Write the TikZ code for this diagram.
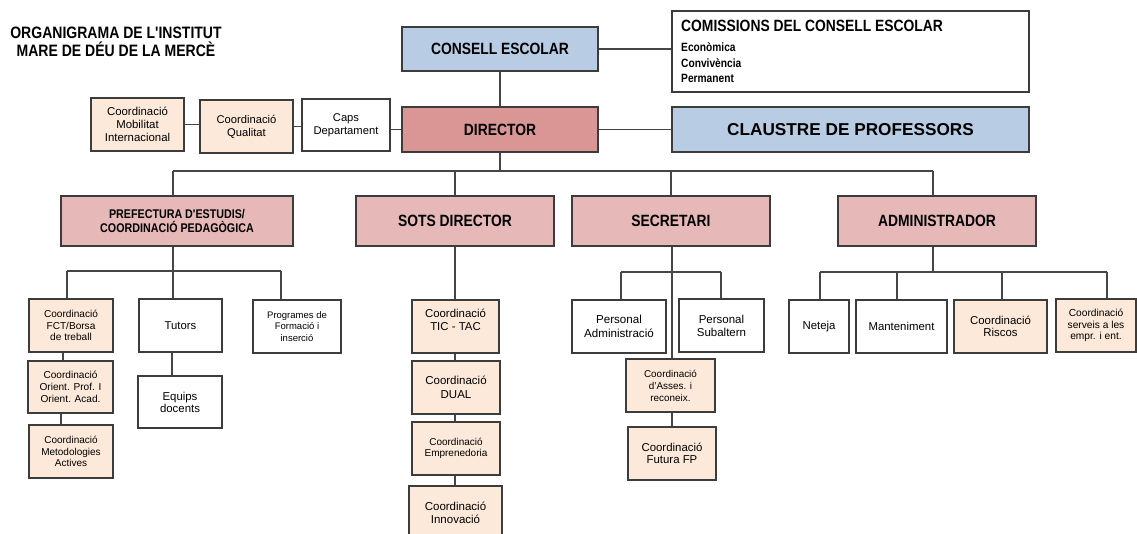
\documentclass[tikz,border=0pt]{standalone}
\usepackage{fontspec}
\setmainfont{Liberation Sans}
\newfontfamily\hdn[FakeStretch=0.85]{Liberation Sans}
\newfontfamily\wdf{Liberation Sans}
\definecolor{bluebox}{RGB}{184,204,228}
\definecolor{dirbox}{RGB}{218,150,148}
\definecolor{pinkbox}{RGB}{230,184,183}
\definecolor{peachbox}{RGB}{253,233,217}
\definecolor{bordc}{RGB}{60,60,60}
\definecolor{linec}{RGB}{70,70,70}
\newcommand{\fs}[2]{\fontsize{#1}{#2}\selectfont}
\begin{document}
\begin{tikzpicture}[x=1pt,y=-1pt,
  box/.style={draw=bordc, line width=1.2pt, inner sep=1pt, align=center, anchor=center, fill=white},
  peach/.style={box, fill=peachbox},
  head/.style={box, fill=pinkbox, minimum width=198pt, minimum height=50pt, font=\hdn\bfseries\fs{16.3}{18}},
  conn/.style={draw=linec, line width=1.1pt},
  txtA/.style={font=\fs{11.4}{12.7}},
  txtB/.style={font=\fs{10.1}{11.5}}]
\useasboundingbox (0,0) rectangle (1137,534);

% title
\node[align=center, inner sep=0, font=\hdn\bfseries\fs{16.5}{18}] (title) at (116,42) {ORGANIGRAMA DE L'INSTITUT\\MARE DE DÉU DE LA MERCÈ};

% top level
\node[box, fill=bluebox, minimum width=196pt, minimum height=44pt, font=\hdn\bfseries\fs{16.3}{18}] (consell) at (500,49) {CONSELL ESCOLAR};
\node[box, minimum width=357pt, minimum height=81pt] (comis) at (850.5,51.5) {};
\node[anchor=base west, inner sep=0, font=\hdn\bfseries\fs{16.3}{18}] (comisA) at (681,32) {COMISSIONS DEL CONSELL ESCOLAR};
\node[anchor=base west, inner sep=0, font=\hdn\bfseries\fs{12}{14}] (comisB) at (681,52) {Econòmica};
\node[anchor=base west, inner sep=0, font=\hdn\bfseries\fs{12}{14}] (comisC) at (681,67.5) {Convivència};
\node[anchor=base west, inner sep=0, font=\hdn\bfseries\fs{12}{14}] (comisD) at (681,83) {Permanent};

\node[box, fill=dirbox, minimum width=196pt, minimum height=45pt, font=\hdn\bfseries\fs{16.3}{18}] (director) at (500,129.5) {DIRECTOR};
\node[box, fill=bluebox, minimum width=357pt, minimum height=45pt, font=\wdf\bfseries\fs{17.2}{19}] (claustre) at (850.5,129.5) {CLAUSTRE DE PROFESSORS};

\node[peach, minimum width=93pt, minimum height=53pt, font=\fs{11.4}{12.7}] (mobil) at (137.5,124.5) {Coordinació\\Mobilitat\\Internacional};
\node[peach, minimum width=93pt, minimum height=53pt, font=\fs{11.2}{13}] (qualitat) at (246.5,126.5) {Coordinació\\Qualitat};
\node[box, minimum width=88pt, minimum height=52pt, font=\fs{11.2}{13}] (caps) at (346,125) {Caps\\Departament};

% second level
\node[head, minimum width=232pt, font=\hdn\bfseries\fs{12.6}{13.3}] (pref) at (177,221) {PREFECTURA D'ESTUDIS/\\COORDINACIÓ PEDAGÒGICA};
\node[head] (sots) at (455,221) {SOTS DIRECTOR};
\node[head] (secr) at (671,221) {SECRETARI};
\node[head] (admin) at (937,221) {ADMINISTRADOR};

% prefectura children
\node[peach, minimum width=84pt, minimum height=53pt, font=\fs{10.1}{11.2}] (fct) at (71,325.5) {Coordinació\\FCT/Borsa\\de treball};
\node[peach, minimum width=85pt, minimum height=52pt, font=\fs{10.1}{12}] (orient) at (70.5,387) {Coordinació\\Orient. Prof. I\\Orient. Acad.};
\node[peach, minimum width=84pt, minimum height=53pt, font=\fs{10}{11.3}] (metod) at (71,451.5) {Coordinació\\Metodologies\\Actives};
\node[box, minimum width=83pt, minimum height=53pt, font=\fs{11.3}{12.7}] (tutors) at (180.5,325.5) {Tutors};
\node[box, minimum width=84pt, minimum height=52pt, font=\fs{11.4}{12}] (equips) at (180,402) {Equips\\docents};
\node[box, minimum width=88pt, minimum height=53pt, font=\fs{9.5}{11.3}] (progr) at (297,326.5) {Programes de\\Formació i\\inserció};

% sots director children
\node[peach, minimum width=87pt, minimum height=53pt, font=\fs{11.4}{12.7}] (tic) at (455.5,326.5) {Coordinació\\TIC - TAC\\~};
\node[peach, minimum width=88pt, minimum height=53pt, font=\fs{11.5}{13.5}] (dual) at (456,387.5) {Coordinació\\DUAL};
\node[peach, minimum width=88pt, minimum height=53pt, font=\fs{10}{11.7}] (empr) at (456,448.5) {Coordinació\\Emprenedoria};
\node[peach, minimum width=93pt, minimum height=53pt, font=\fs{11.5}{12.7}] (innov) at (455.5,512.5) {Coordinació\\Innovació};

% secretari children
\node[box, minimum width=94pt, minimum height=53pt, font=\fs{11.6}{13.3}] (padm) at (619,326.5) {Personal\\Administració};
\node[box, minimum width=85pt, minimum height=53pt, font=\fs{11.5}{13}] (psub) at (721.5,325.5) {Personal\\Subaltern};
\node[peach, minimum width=89pt, minimum height=53pt, font=\fs{9.9}{12}] (asses) at (670.5,385.5) {Coordinació\\d'Asses. i\\reconeix.};
\node[peach, minimum width=88pt, minimum height=53pt, font=\fs{11.4}{12.7}] (futura) at (672,453.5) {Coordinació\\Futura FP};

% administrador children
\node[box, minimum width=60pt, minimum height=53pt, font=\fs{11.4}{12.7}] (neteja) at (819,326.5) {Neteja};
\node[box, minimum width=91pt, minimum height=53pt, font=\fs{11.4}{12.7}] (mant) at (901.5,326.5) {Manteniment};
\node[peach, minimum width=93pt, minimum height=53pt, font=\fs{11.4}{12.7}] (riscos) at (1000.5,326.5) {Coordinació\\Riscos};
\node[peach, minimum width=80pt, minimum height=53pt, font=\fs{10.2}{11.5}] (serveis) at (1096,325.5) {Coordinació\\serveis a les\\empr. i ent.};

% bus coordinates
\coordinate (busL) at (173,171);
\coordinate (busR) at (933,171);
\coordinate (pbL) at (67,271);
\coordinate (pbR) at (281,271);
\coordinate (sbL) at (621,272);
\coordinate (sbR) at (721,272);
\coordinate (abL) at (820,272);
\coordinate (abM1) at (897,272);
\coordinate (abM2) at (1002,272);
\coordinate (abR) at (1107,272);

% connectors top
\draw[conn] (consell.south) -- (director.north);
\draw[conn] (consell.east) -- (consell.east -| comis.west);
\draw[conn] (director.east) -- (claustre.west);
\draw[conn] (caps.east |- director.west) -- (director.west);
\draw[conn] (qualitat.east) -- (qualitat.east -| caps.west);
\draw[conn] (mobil.east) -- (mobil.east -| qualitat.west);

% main bus
\draw[conn] (director.south) -- (director.south |- busL);
\draw[conn] (busL) -- (busR);
\draw[conn] (busL) -- (busL |- pref.north);
\draw[conn] (sots.north |- busL) -- (sots.north);
\draw[conn] (secr.north |- busL) -- (secr.north);
\draw[conn] (busR) -- (busR |- admin.north);

% prefectura
\draw[conn] (busL |- pref.south) -- (busL |- tutors.north);
\draw[conn] (pbL) -- (pbR);
\draw[conn] (pbL) -- (pbL |- fct.north);
\draw[conn] (pbR) -- (pbR |- progr.north);
\draw[conn] ([xshift=-8pt]fct.south) -- ([xshift=-8pt]fct.south |- orient.north);
\draw[conn] ([xshift=-9.5pt]orient.south) -- ([xshift=-9.5pt]orient.south |- metod.north);
\draw[conn] ([xshift=-8.5pt]tutors.south) -- ([xshift=-8.5pt]tutors.south |- equips.north);

% sots director
\draw[conn] (sots.south) -- (sots.south |- tic.north);
\draw[conn] (sots.south |- tic.south) -- (sots.south |- dual.north);
\draw[conn] (sots.south |- dual.south) -- (sots.south |- empr.north);
\draw[conn] (sots.south |- empr.south) -- (sots.south |- innov.north);

% secretari
\draw[conn] ([xshift=1pt]secr.south) -- ([xshift=1pt]secr.south |- asses.north);
\draw[conn] (sbL) -- (sbR);
\draw[conn] (sbL) -- (sbL |- padm.north);
\draw[conn] (sbR) -- (sbR |- psub.north);
\draw[conn] ([xshift=1pt]secr.south |- asses.south) -- ([xshift=1pt]secr.south |- futura.north);

% administrador
\draw[conn] (busR |- admin.south) -- (busR |- abL);
\draw[conn] (abL) -- (abR);
\draw[conn] (abL) -- (abL |- neteja.north);
\draw[conn] (abM1) -- (abM1 |- mant.north);
\draw[conn] (abM2) -- (abM2 |- riscos.north);
\draw[conn] (abR) -- (abR |- serveis.north);
\end{tikzpicture}
\end{document}
